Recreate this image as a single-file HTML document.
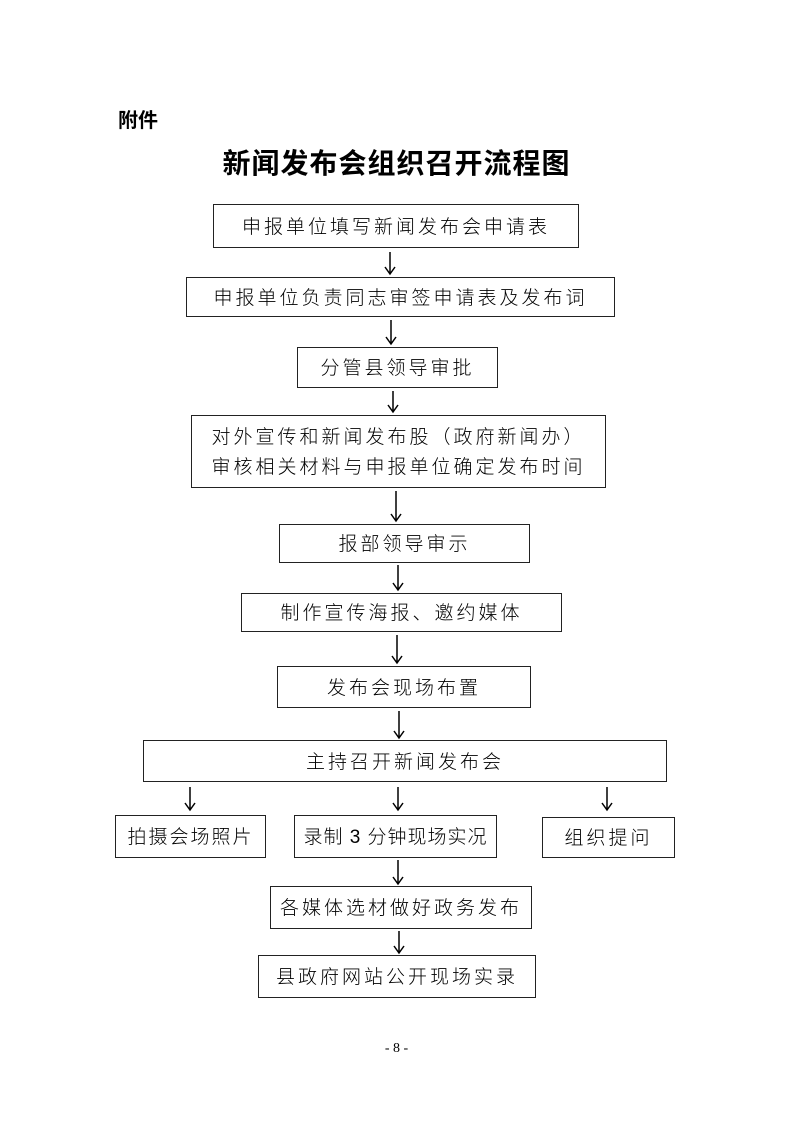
<!DOCTYPE html>
<html><head><meta charset="utf-8"><style>
body{margin:0;width:793px;height:1122px;background:#fff;position:relative;font-family:"Liberation Serif","Noto Serif CJK SC",serif;color:#000}
.b{position:absolute;border:1.3px solid #222;box-sizing:border-box;display:flex;align-items:center;justify-content:center;text-align:center;font-size:19px;letter-spacing:3px;line-height:30px;font-family:"Liberation Sans","Noto Sans CJK SC",sans-serif;font-weight:300;white-space:nowrap;padding-top:3px}
.t{position:absolute}
svg{position:absolute;left:0;top:0}
</style></head><body>
<div class="t" style="left:118px;top:104px;font-size:20px;font-weight:bold;font-family:'Liberation Sans','Noto Sans CJK SC',sans-serif">附件</div>
<div class="t" style="left:0;width:793px;top:142px;text-align:center;font-size:28px;font-weight:bold;font-family:'Liberation Sans','Noto Sans CJK SC',sans-serif;letter-spacing:1px">新闻发布会组织召开流程图</div>
<div class="b" style="left:213px;top:204px;width:366px;height:44px">申报单位填写新闻发布会申请表</div>
<div class="b" style="left:186px;top:277px;width:429px;height:40px">申报单位负责同志审签申请表及发布词</div>
<div class="b" style="left:297px;top:347px;width:201px;height:41px">分管县领导审批</div>
<div class="b" style="left:191px;top:415px;width:415px;height:73px;white-space:normal">对外宣传和新闻发布股（政府新闻办）<br>审核相关材料与申报单位确定发布时间</div>
<div class="b" style="left:279px;top:524px;width:251px;height:39px">报部领导审示</div>
<div class="b" style="left:241px;top:593px;width:321px;height:39px">制作宣传海报、邀约媒体</div>
<div class="b" style="left:277px;top:666px;width:254px;height:42px">发布会现场布置</div>
<div class="b" style="left:143px;top:740px;width:524px;height:42px">主持召开新闻发布会</div>
<div class="b" style="left:115px;top:815px;width:151px;height:43px;letter-spacing:2px">拍摄会场照片</div>
<div class="b" style="left:294px;top:815px;width:203px;height:43px;letter-spacing:1px">录制 3 分钟现场实况</div>
<div class="b" style="left:542px;top:817px;width:133px;height:41px">组织提问</div>
<div class="b" style="left:270px;top:886px;width:262px;height:43px">各媒体选材做好政务发布</div>
<div class="b" style="left:258px;top:955px;width:278px;height:43px">县政府网站公开现场实录</div>
<svg width="793" height="1122" fill="none" stroke="#000" stroke-width="1.5">
<path d="M390 252v22M385 267l5 7 5-7"/>
<path d="M391 320v24M386 337l5 7 5-7"/>
<path d="M393 391v21M388 405l5 7 5-7"/>
<path d="M396 491v30M391 514l5 7 5-7"/>
<path d="M398 565v25M393 583l5 7 5-7"/>
<path d="M397 635v28M392 656l5 7 5-7"/>
<path d="M399 711v27M394 731l5 7 5-7"/>
<path d="M190 787v23M185 803l5 7 5-7"/>
<path d="M398 787v23M393 803l5 7 5-7"/>
<path d="M607 787v23M602 803l5 7 5-7"/>
<path d="M398 860v24M393 877l5 7 5-7"/>
<path d="M399 931v22M394 946l5 7 5-7"/>
</svg>
<div class="t" style="left:0;width:793px;top:1041px;text-align:center;font-size:14px">- 8 -</div>
</body></html>
